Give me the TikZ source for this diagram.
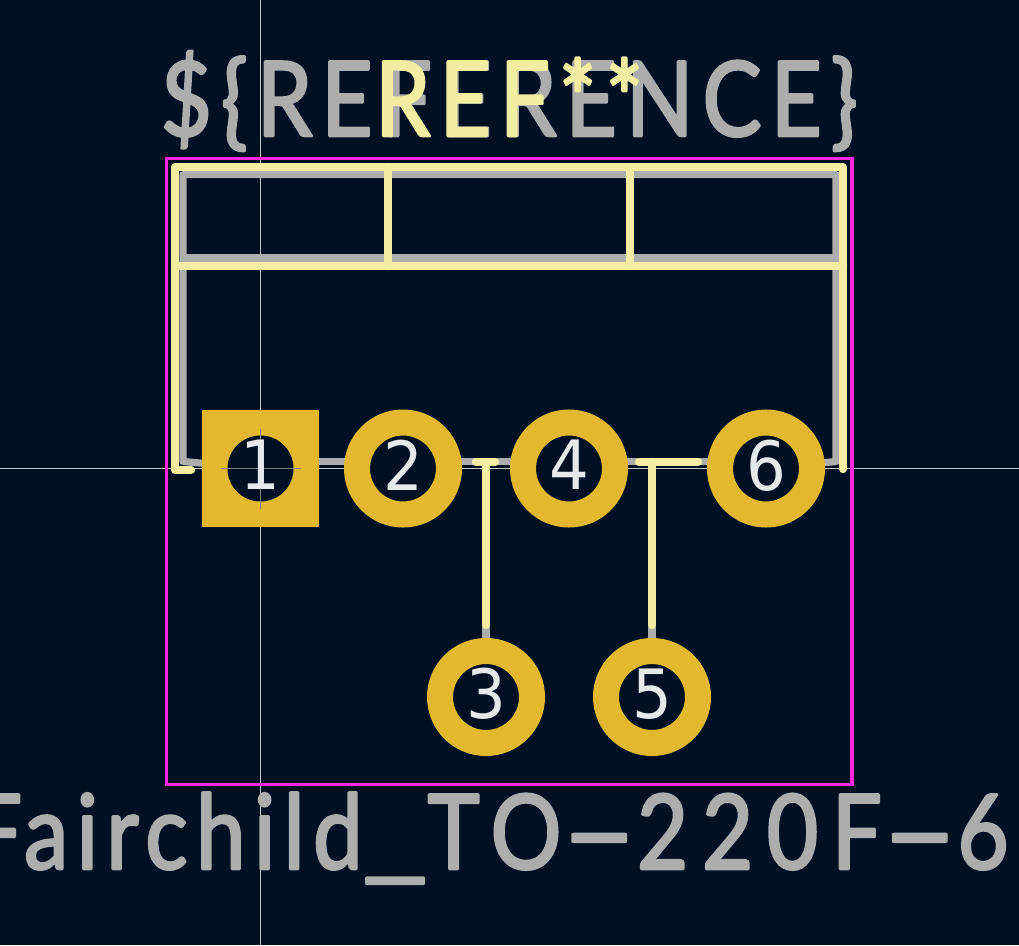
\documentclass[tikz,border=0pt]{standalone}
\usepackage{xcolor}
\usepackage{fontspec}
\usetikzlibrary{positioning}
\newfontfamily\strokefont[FakeStretch=0.85,FakeBold=2.4,LetterSpace=8.8]{Lato}
\newfontfamily\valuefont[FakeStretch=0.85,FakeBold=2.4,LetterSpace=13.2]{Lato}
\newfontfamily\valuetight[FakeStretch=0.85,FakeBold=2.4,LetterSpace=8.2]{Lato}
\newfontfamily\padfont[FakeStretch=0.92]{DejaVu Sans}
\newcommand{\roundglyphs}{\special{pdf:code 1 j 1 J}}
\newcommand{\longdash}{\scalebox{2.3}[1]{-}}
\newcommand{\longunder}{\scalebox{1.6}[1]{\_}}
\definecolor{boardbg}{HTML}{001023}
\definecolor{fabgray}{HTML}{ADADAD}
\definecolor{silkyellow}{HTML}{F2EDA1}
\definecolor{courtyard}{HTML}{FF26E2}
\definecolor{padgold}{HTML}{E3B72E}
\definecolor{padnum}{HTML}{E6E9EC}
\definecolor{crossgray}{HTML}{C8C8C8}
\tikzset{
    fabline/.style={draw=fabgray, line width=5.4pt, line join=round},
    silkline/.style={draw=silkyellow, line width=6.3pt, line cap=round, line join=round},
    padround/.style={circle, draw=padgold, fill=boardbg, line width=19.5pt, minimum size=69pt, inner sep=0pt},
    padsquare/.style={rectangle, fill=padgold, minimum size=87.75pt, inner sep=0pt},
    padhole/.style={circle, fill=boardbg, minimum size=49.5pt, inner sep=0pt},
    padlabel/.style={text=padnum, inner sep=0pt, text depth=5.25pt, font=\padfont\fontsize{51pt}{51pt}\selectfont},
    bigtext/.style={inner sep=0pt, anchor=base, font=\strokefont\fontsize{78pt}{78pt}\selectfont}
}
\begin{document}
\begin{tikzpicture}[x=0.75pt,y=-0.75pt]
        \useasboundingbox (0,0) rectangle (1019,945);
        \clip (0,0) rectangle (1019,945);
        \fill[boardbg] (0,0) rectangle (1019,945);

        % anchor positions
        \coordinate (p1) at (260.5,468.5);
        \coordinate (p2) at (403,468.5);
        \coordinate (p3) at (486,697);
        \coordinate (p4) at (569,468.5);
        \coordinate (p5) at (652,697);
        \coordinate (p6) at (766,468.5);
        \coordinate (tee3) at (486,461.5);
        \coordinate (tee5) at (652,461.5);

        % crosshair
        \draw[crossgray, line width=0.75pt] (260.5,0) -- (260.5,945);
        \draw[crossgray, line width=0.75pt] (0,468.5) -- (1019,468.5);

        \node[bigtext, text=fabgray] (reference) at (509,136) {\roundglyphs\$\{REFERENCE\}};
        \node[bigtext, text=fabgray, font=\valuefont\fontsize{78pt}{78pt}\selectfont, anchor=base east] (value) at (1009,869) {\roundglyphs{\valuetight Fairchild\longunder}TO\longdash 220F\longdash 6};

        % fab outline
        \draw[fabline] (p1) -- (183,461.5) -- (183,174.5) -- (836,174.5) -- (836,461.5) -- (p6);
        \draw[fabline] (183,258) -- (836,258);
        \draw[fabline] (p1 |- tee3) -- (p6 |- tee3);
        \draw[fabline] (tee3) -- (p3);
        \draw[fabline] (tee5) -- (p5);

        % courtyard
        \draw[courtyard, line width=2.4pt] (166.5,158.5) rectangle (852,784.5);

        % silk outline
        \draw[silkline] (191,470) -- (175,470) -- (175,167) -- (843,167) -- (843,469);
        \draw[silkline] (175,266) -- (843,266);
        \draw[silkline] (388,167) -- (388,266);
        \draw[silkline] (630,167) -- (630,266);
        \draw[silkline] (476,462) -- (495,462);
        \draw[silkline] (639,462) -- (698,462);
        \draw[silkline] (486,462) -- (486,625);
        \draw[silkline] (652,462) -- (652,625);

        \node[bigtext, text=silkyellow] (refdes) at (509,136) {\roundglyphs REF**};

        % pads
        \node[padsquare] (pad1) at (p1) {};
        \node[padhole] (hole1) at (p1) {};
        \draw[gray, line width=0.75pt] (220.5,468.5) -- (300.5,468.5);
        \draw[gray, line width=0.75pt] (260.5,428.5) -- (260.5,508.5);
        \node[padlabel] (num1) at (p1) {1};
        \node[padround, padlabel] (pad2) at (p2) {2};
        \node[padround, padlabel] (pad3) at (p3) {3};
        \node[padround, padlabel] (pad4) at (p4) {4};
        \node[padround, padlabel] (pad5) at (p5) {5};
        \node[padround, padlabel] (pad6) at (p6) {6};
\end{tikzpicture}
\end{document}
